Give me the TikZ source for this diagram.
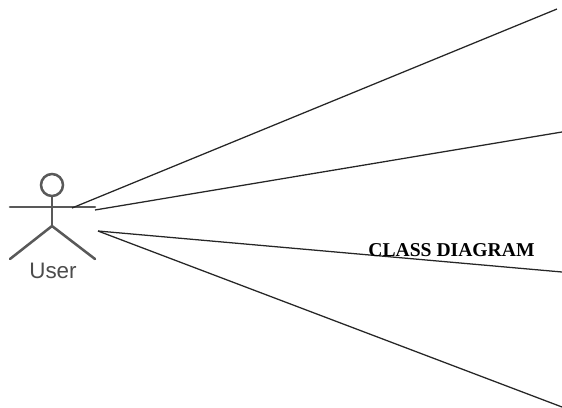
\documentclass[tikz,border=0pt]{standalone}
\usepackage{fontspec}
\setmainfont{Liberation Serif}
\newfontfamily\usersans{Liberation Sans}
\tikzset{
  actorline/.style={draw=black!65,line width=1.9pt,line cap=round},
  connector/.style={draw=black!85,line width=0.95pt},
  actorlabel/.style={font=\usersans\fontsize{16.8}{18}\selectfont,text=black!70,inner sep=0pt},
  titlelabel/.style={font=\bfseries\fontsize{14.7}{16}\selectfont,text=black,inner sep=0pt}
}
\begin{document}
\begin{tikzpicture}[x=0.75pt,y=-0.75pt]
\useasboundingbox (0,0) rectangle (562,408);
\coordinate (c1s) at (72,208);
\coordinate (c1e) at (557,9);
\coordinate (c2s) at (95,210);
\coordinate (c2e) at (562,132);
\coordinate (c3s) at (98,231);
\coordinate (c3e) at (562,272);
\coordinate (c4e) at (562,407);
\coordinate (armL) at (10,207);
\coordinate (armR) at (95,207);
\coordinate (hip) at (52,226);
\coordinate (legL) at (10,259);
\coordinate (legR) at (95,259);
\node[circle,draw=black!65,line width=1.9pt,minimum size=16.5pt,inner sep=0pt] (head) at (52,185) {};
\draw[actorline] (head.south) -- (hip);
\draw[actorline] (armL) -- (armR);
\draw[actorline] (legL) -- (hip) -- (legR);
\node[actorlabel] (user) at (53,271) {User};
\draw[connector] (c1s) -- (c1e);
\draw[connector] (c2s) -- (c2e);
\draw[connector] (c3s) -- (c3e);
\draw[connector] (c3s) -- (c4e);
\node[titlelabel] (title) at (451.5,250) {CLASS DIAGRAM};
\end{tikzpicture}
\end{document}
